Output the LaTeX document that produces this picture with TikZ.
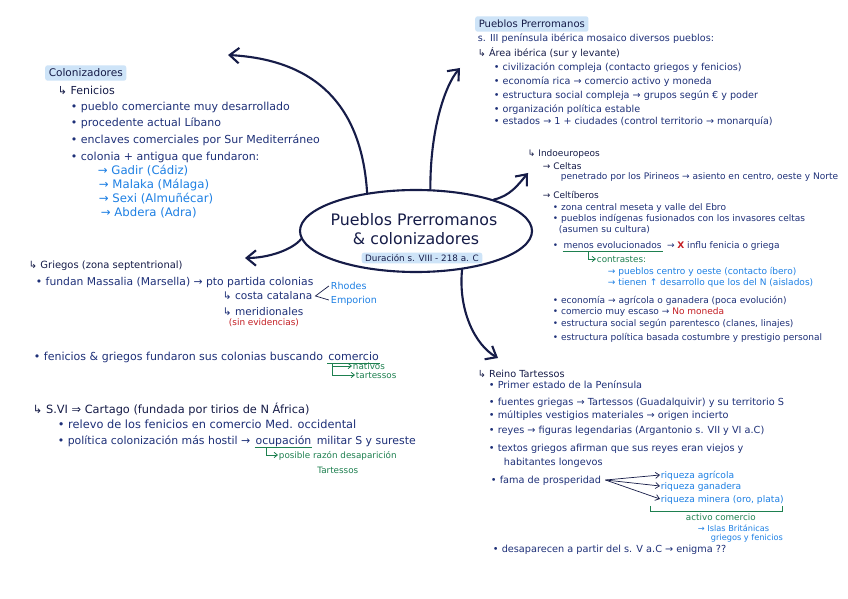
\documentclass[tikz,border=0pt]{standalone}
\usepackage{fontspec}
\setmainfont{DejaVu Sans}
\usetikzlibrary{arrows.meta, positioning, shapes.geometric}
\definecolor{ink}{RGB}{22,28,72}
\definecolor{inkblue}{RGB}{30,48,120}
\definecolor{skyblue}{RGB}{30,128,228}
\definecolor{leaf}{RGB}{30,128,80}
\definecolor{brick}{RGB}{196,30,36}
\definecolor{marker}{RGB}{206,228,248}

\begin{document}
\begin{tikzpicture}[
    x=0.03cm, y=-0.03cm,
    txt/.style={anchor=west, inner sep=0.6pt, text=inkblue, text height=1.5ex, text depth=0.35ex},
    head/.style={txt, text=ink},
    sub/.style={txt, text=skyblue},
    note/.style={txt, text=leaf, font=\fontsize{7.5}{9}\selectfont},
    hl/.style={fill=marker, rounded corners=2pt, inner xsep=3pt, inner ysep=1.5pt},
    arr/.style={-{Straight Barb[length=2.8mm, width=4.6mm]}, line width=1.8pt, ink, line cap=round},
    uline/.style={leaf, line width=0.8pt},
    hookline/.style={leaf, line width=0.7pt, -{Straight Barb[length=1mm, width=1.6mm]}},
    lsize/.style={font=\fontsize{9.4}{11}\selectfont},
    csize/.style={font=\fontsize{9.7}{11}\selectfont},
    rsize/.style={font=\fontsize{8.2}{10}\selectfont},
    isize/.style={font=\fontsize{7.7}{9}\selectfont},
    tsize/.style={font=\fontsize{8.3}{10}\selectfont}
]
    \useasboundingbox (0,0) rectangle (848,599);
    \fill[white] (0,0) rectangle (848,599);

    % centre
    \node[ellipse, draw=ink, line width=1.8pt, minimum width=6.96cm, minimum height=2.46cm] (hub) at (416,231) {};
    \node[text=ink, font=\fontsize{13.5}{15}\selectfont] (ttl) at (414,220) {Pueblos Prerromanos};
    \node[text=ink, font=\fontsize{13.5}{15}\selectfont] (ttl2) at (416,239) {\& colonizadores};
    \node[hl, text=ink, font=\fontsize{7.5}{9}\selectfont] (dur) at (422,258) {Duración s. VIII - 218 a. C};

    \coordinate (toCol) at (228,55);
    \coordinate (toPre) at (460,68);
    \coordinate (toInd) at (528,173);
    \coordinate (toTar) at (498,358);
    \coordinate (toGri) at (245,258);
    \draw[arr] (hub.142) .. controls (362,110) and (320,60) .. (toCol);
    \draw[arr] (hub.71) .. controls (430,130) and (445,85) .. (toPre);
    \draw[arr] (hub.22) .. controls (510,196) and (518,185) .. (toInd);
    \draw[arr] (hub.320) .. controls (458,310) and (475,345) .. (toTar);
    \draw[arr] (hub.184) .. controls (292,250) and (268,258) .. (toGri);

    % colonizadores
    \begin{scope}[lsize]
    \node[head, hl, font=\fontsize{9}{11}\selectfont] (colon) at (45,73) {Colonizadores};
    \node[head] (fen) at (57,91) {↳ Fenicios};
    \foreach \y/\t [count=\i] in {107/pueblo comerciante muy desarrollado, 123/procedente actual Líbano,
        140/enclaves comerciales por Sur Mediterráneo, 157/colonia + antigua que fundaron:}
        \node[txt] (fen\i) at (70,\y) {• \t};
    \foreach \x/\y/\t [count=\i] in {97/171/Gadir (Cádiz), 98/185/Malaka (Málaga),
        98/199/Sexi (Almuñécar), 100/213/Abdera (Adra)}
        \node[sub, font=\fontsize{10}{11}\selectfont] (col\i) at (\x,\y) {→ \t};

    \node[head, font=\fontsize{8.5}{10}\selectfont] (gri) at (28,265) {↳ Griegos (zona septentrional)};
    \node[txt, font=\fontsize{9.2}{11}\selectfont] (mas) at (35,282) {• fundan Massalia (Marsella) → pto partida colonias};
    \node[txt, font=\fontsize{9}{11}\selectfont] (cost) at (222,296) {↳ costa catalana};
    \node[sub, font=\fontsize{8.2}{9}\selectfont] (rho) at (330,286) {Rhodes};
    \node[sub, font=\fontsize{8.2}{9}\selectfont] (emp) at (330,300) {Emporion};
    \draw[ink, line width=0.6pt] ([xshift=-1pt]rho.west) -- ([xshift=2pt]cost.east) -- ([xshift=-1pt]emp.west);
    \node[txt, font=\fontsize{9}{11}\selectfont] (mer) at (222,312) {↳ meridionales};
    \node[txt, text=brick, font=\fontsize{7.6}{9}\selectfont] (sin) at (228,322) {(sin evidencias)};

    \node[txt] (fg) at (33,357) {• fenicios \& griegos fundaron sus colonias buscando};
    \node[txt, right=0.3em of fg] (com) {comercio};
    \draw[uline] (com.south west) -- (com.south east);
    \node[note] (nat) at (352,366) {nativos};
    \node[note] (tts) at (355,375) {tartessos};
    \draw[hookline] ([xshift=4pt]com.south west) |- (nat.west);
    \draw[hookline] ([xshift=4pt]com.south west) |- (tts.west);
    \end{scope}

    \begin{scope}[csize]
    \node[head] (car) at (32,410) {↳ S.VI ⇒ Cartago (fundada por tirios de N África)};
    \node[txt] (rel) at (57,425) {• relevo de los fenicios en comercio Med. occidental};
    \node[txt, font=\fontsize{9.3}{11}\selectfont] (pol) at (57,441) {• política colonización más hostil →};
    \node[txt, font=\fontsize{9.3}{11}\selectfont, right=0.3em of pol] (ocu) {ocupación};
    \node[txt, font=\fontsize{9.3}{11}\selectfont, right=0.3em of ocu] (mil) {militar S y sureste};
    \draw[uline] (ocu.south west) -- (ocu.south east);
    \node[note] (pos) at (278,455) {posible razón desaparición};
    \node[note, below=0.5pt of pos] (tart) {Tartessos};
    \draw[hookline] ([xshift=10pt]ocu.south west) |- (pos.west);
    \end{scope}

    % pueblos prerromanos
    \begin{scope}[rsize]
    \node[head, hl, font=\fontsize{8.6}{10}\selectfont] (pre) at (475,24) {Pueblos Prerromanos};
    \node[txt] (moz) at (477,38) {s. III península ibérica mosaico diversos pueblos:};
    \node[head] (ibe) at (477,53) {↳ Área ibérica (sur y levante)};
    \foreach \y/\t [count=\i] in {67/civilización compleja (contacto griegos y fenicios),
        81/economía rica → comercio activo y moneda, 95/estructura social compleja → grupos según € y poder,
        109/organización política estable, 121/estados → 1 + ciudades (control territorio → monarquía)}
        \node[txt] (ibe\i) at (493,\y) {• \t};
    \end{scope}

    \begin{scope}[isize]
    \node[head] (ind) at (527,153) {↳ Indoeuropeos};
    \node[head] (cel) at (542,166) {→ Celtas};
    \node[txt] (pen) at (560,176) {penetrado por los Pirineos → asiento en centro, oeste y Norte};
    \node[head] (ctb) at (542,195) {→ Celtíberos};
    \node[txt] (ctb1) at (552,207) {• zona central meseta y valle del Ebro};
    \node[txt] (ctb2) at (552,218) {• pueblos indígenas fusionados con los invasores celtas};
    \node[txt] (ctb3) at (558,229) {(asumen su cultura)};
    \node[txt] (ctb4) at (552,245) {•};
    \node[txt, right=0.3em of ctb4] (men) {menos evolucionados};
    \node[txt, right=0.3em of men] (inf) {→ \textcolor{brick}{\textbf{X}} influ fenicia o griega};
    \draw[uline] (men.south west) -- (men.south east);
    \node[note] (con) at (596,259) {contrastes:};
    \draw[hookline] ([xshift=22pt]men.south west) |- (con.west);
    \node[sub] (cen) at (607,271) {→ pueblos centro y oeste (contacto íbero)};
    \node[sub] (tie) at (607,282) {→ tienen ↑ desarrollo que los del N (aislados)};
    \foreach \y/\t [count=\i from 5] in {300/economía → agrícola o ganadera (poca evolución),
        311/{comercio muy escaso → \textcolor{brick}{No moneda}},
        323/{estructura social según parentesco (clanes, linajes)},
        337/estructura política basada costumbre y prestigio personal}
        \node[txt] (ctb\i) at (552,\y) {• \t};
    \end{scope}

    % tartessos
    \begin{scope}[tsize]
    \node[head] (rei) at (477,374) {↳ Reino Tartessos};
    \foreach \y/\t [count=\i] in {385/Primer estado de la Península,
        402/fuentes griegas → Tartessos (Guadalquivir) y su territorio S,
        415/múltiples vestigios materiales → origen incierto,
        430/reyes → figuras legendarias (Argantonio s. VII y VI a.C),
        448/textos griegos afirman que sus reyes eran viejos y}
        \node[txt] (rt\i) at (488,\y) {• \t};
    \node[txt] (hab) at (503,462) {habitantes longevos};
    \node[txt] (fama) at (490,480) {• fama de prosperidad};
    \node[sub, font=\fontsize{7.8}{9}\selectfont] (riq1) at (660,475) {riqueza agrícola};
    \node[sub, font=\fontsize{7.8}{9}\selectfont] (riq2) at (660,486) {riqueza ganadera};
    \node[sub, font=\fontsize{7.8}{9}\selectfont] (riq3) at (660,499) {riqueza minera (oro, plata)};
    \foreach \i in {1,2,3}
        \draw[ink, line width=0.6pt, -{Straight Barb[length=1.2mm, width=1.8mm]}] ([xshift=3pt]fama.east) -- (riq\i.west);
    \draw[uline] ([xshift=-8pt]riq3.south west) -- ++(0,6) -| ([xshift=-2pt]riq3.south east);
    \node[note] (act) at (685,517) {activo comercio};
    \node[sub, font=\fontsize{7}{8}\selectfont] (isl) at (697,528) {→ Islas Británicas};
    \node[sub, font=\fontsize{7}{8}\selectfont] (gyf) at (710,537) {griegos y fenicios};
    \node[txt] (des) at (492,549) {• desaparecen a partir del s. V a.C → enigma ??};
    \end{scope}
\end{tikzpicture}
\end{document}
